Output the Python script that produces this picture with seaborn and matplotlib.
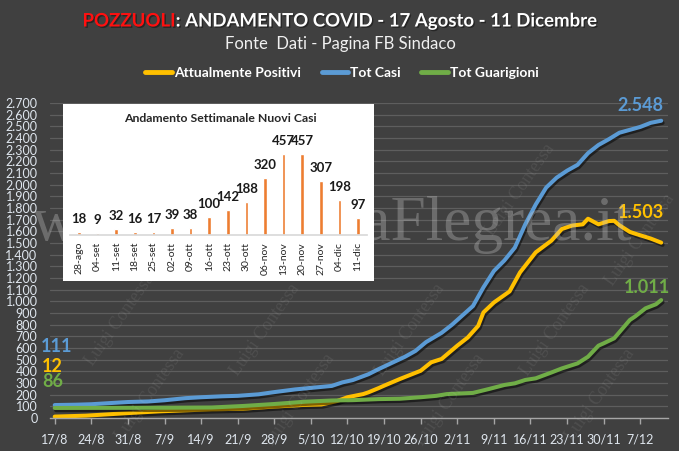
import matplotlib
matplotlib.use("Agg")
import matplotlib.pyplot as plt
import matplotlib.patheffects as pe
from matplotlib.ticker import FuncFormatter
from matplotlib.patches import Rectangle
from matplotlib.lines import Line2D
import seaborn as sns
import pandas as pd

# ---------------- data ----------------
series_names = ["Attualmente Positivi", "Tot Casi", "Tot Guarigioni"]

casi_dates = ["2020-08-17", "2020-08-21", "2020-08-24", "2020-08-28", "2020-08-31", "2020-09-04",
              "2020-09-07", "2020-09-11", "2020-09-14", "2020-09-18", "2020-09-21", "2020-09-25",
              "2020-09-28", "2020-10-02", "2020-10-05", "2020-10-09", "2020-10-11", "2020-10-13",
              "2020-10-16", "2020-10-18", "2020-10-20", "2020-10-23", "2020-10-25", "2020-10-27",
              "2020-10-30", "2020-11-01", "2020-11-03", "2020-11-05", "2020-11-07", "2020-11-09",
              "2020-11-11", "2020-11-13", "2020-11-15", "2020-11-17", "2020-11-19", "2020-11-21",
              "2020-11-23", "2020-11-25", "2020-11-27", "2020-11-29", "2020-12-01", "2020-12-03",
              "2020-12-05", "2020-12-07", "2020-12-09", "2020-12-11"]
casi_values = [111, 114, 118, 129, 137, 142,
               152, 170, 178, 186, 190, 203,
               222, 245, 258, 275, 305, 325,
               375, 420, 462, 525, 575, 650,
               730, 800, 880, 960, 1120, 1260,
               1350, 1460, 1660, 1830, 1975, 2060,
               2120, 2170, 2270, 2340, 2390, 2445,
               2470, 2495, 2530, 2548]

pos_dates = ["2020-08-17", "2020-08-23", "2020-08-31", "2020-09-06", "2020-09-11", "2020-09-16",
             "2020-09-22", "2020-09-28", "2020-10-04", "2020-10-07", "2020-10-10", "2020-10-12",
             "2020-10-15", "2020-10-16", "2020-10-18", "2020-10-19", "2020-10-22", "2020-10-26",
             "2020-10-28", "2020-10-30", "2020-11-02", "2020-11-04", "2020-11-06", "2020-11-07",
             "2020-11-09", "2020-11-12", "2020-11-14", "2020-11-17", "2020-11-20", "2020-11-22",
             "2020-11-24", "2020-11-26", "2020-11-27", "2020-11-29", "2020-12-01", "2020-12-02",
             "2020-12-03", "2020-12-05", "2020-12-06", "2020-12-09", "2020-12-11"]
pos_values = [12, 20, 42, 57, 66, 74,
              80, 98, 113, 116, 145, 178,
              205, 220, 257, 277, 334, 405,
              477, 506, 620, 690, 790, 905,
              990, 1085, 1248, 1420, 1520, 1620,
              1650, 1660, 1708, 1660, 1688, 1690,
              1652, 1595, 1580, 1538, 1503]

guar_dates = ["2020-08-17", "2020-09-07", "2020-09-16", "2020-09-22", "2020-09-28", "2020-10-04",
              "2020-10-09", "2020-10-13", "2020-10-18", "2020-10-22", "2020-10-26", "2020-10-29",
              "2020-10-31", "2020-11-05", "2020-11-08", "2020-11-11", "2020-11-13", "2020-11-15",
              "2020-11-17", "2020-11-20", "2020-11-22", "2020-11-25", "2020-11-27", "2020-11-29",
              "2020-11-30", "2020-12-02", "2020-12-05", "2020-12-06", "2020-12-08", "2020-12-10",
              "2020-12-11"]
guar_values = [86, 88, 90, 103, 120, 140,
               150, 153, 162, 165, 178, 190,
               205, 215, 248, 283, 297, 326,
               340, 390, 425, 468, 525, 620,
               640, 683, 840, 870, 940, 975,
               1011]

x_tick_dates = ["2020-08-17", "2020-08-24", "2020-08-31", "2020-09-07", "2020-09-14", "2020-09-21",
                "2020-09-28", "2020-10-05", "2020-10-12", "2020-10-19", "2020-10-26", "2020-11-02",
                "2020-11-09", "2020-11-16", "2020-11-23", "2020-11-30", "2020-12-07"]
x_tick_labels = ["17/8", "24/8", "31/8", "7/9", "14/9", "21/9", "28/9", "5/10", "12/10",
                 "19/10", "26/10", "2/11", "9/11", "16/11", "23/11", "30/11", "7/12"]

week_labels = ["28-ago", "04-set", "11-set", "18-set", "25-set", "02-ott", "09-ott", "16-ott",
               "23-ott", "30-ott", "06-nov", "13-nov", "20-nov", "27-nov", "04-dic", "11-dic"]
week_new_cases = [18, 9, 32, 16, 17, 39, 38, 100, 142, 188, 320, 457, 457, 307, 198, 97]

# ---------------- style ----------------
sns.set_theme(style="dark")
plt.rcParams['font.family'] = ['Lato', 'DejaVu Sans']

BG = '#404040'
C_POS, C_CASI, C_GUAR = '#FFC000', '#5B9BD5', '#70AD47'
palette = {series_names[0]: C_POS, series_names[1]: C_CASI, series_names[2]: C_GUAR}
TICKC = '#dfe6ee'

W, H = 679, 451
def fx(px):
    return px / W
def fy(py):
    return 1 - py / H

fig = plt.figure(figsize=(W / 100, H / 100), dpi=100, facecolor=BG)

# ---------------- main axes ----------------
ax = fig.add_axes([fx(50), fy(418), fx(668) - fx(50), fy(103) - fy(418)])
ax.set_facecolor(BG)

df = pd.concat([
    pd.DataFrame({"date": pd.to_datetime(pos_dates), "value": pos_values, "series": series_names[0]}),
    pd.DataFrame({"date": pd.to_datetime(casi_dates), "value": casi_values, "series": series_names[1]}),
    pd.DataFrame({"date": pd.to_datetime(guar_dates), "value": guar_values, "series": series_names[2]}),
], ignore_index=True)

sns.lineplot(data=df, x="date", y="value", hue="series", hue_order=series_names,
             palette=palette, linewidth=2.9, ax=ax, legend=False, estimator=None)
for ln in ax.lines:
    ln.set_solid_capstyle('round')
    ln.set_solid_joinstyle('round')
    ln.set_path_effects([pe.SimpleLineShadow(offset=(1.0, -1.6), shadow_color='black', alpha=0.5),
                         pe.Normal()])

start = pd.Timestamp("2020-08-17")
ax.set_xlim(start - pd.Timedelta(days=0.9), start + pd.Timedelta(days=117.3))
ax.set_ylim(0, 2700)
ax.set_yticks(list(range(0, 2701, 100)))
ax.yaxis.set_major_formatter(FuncFormatter(lambda v, _: f"{int(round(v)):,}".replace(",", ".")))
ax.set_xticks(pd.to_datetime(x_tick_dates))
ax.set_xticklabels(x_tick_labels)
ax.set_xlabel("")
ax.set_ylabel("")
ax.grid(False)
ax.yaxis.grid(True, color='#5e5e5e', linewidth=0.9)
ax.set_axisbelow(True)
for s in ['top', 'right', 'left']:
    ax.spines[s].set_visible(False)
ax.spines['bottom'].set_color('#a6a6a6')
ax.spines['bottom'].set_linewidth(1.0)
ax.tick_params(axis='y', length=0, pad=9, labelsize=9, labelcolor=TICKC)
ax.tick_params(axis='x', length=4, width=1, color='#a6a6a6', direction='out', bottom=True,
               pad=7, labelsize=9, labelcolor=TICKC)

# end / start value labels
end_d = pd.Timestamp("2020-12-11")
lab_kw = dict(textcoords='offset pixels', ha='center', va='center', fontweight='bold',
              fontsize=13, annotation_clip=False)
ax.annotate("2.548", xy=(end_d, casi_values[-1]), xytext=(-21, 15), color=C_CASI, **lab_kw)
ax.annotate("1.503", xy=(end_d, pos_values[-1]), xytext=(-20, 30), color=C_POS, **lab_kw)
ax.annotate("1.011", xy=(end_d, guar_values[-1]), xytext=(-14, 13), color=C_GUAR, **lab_kw)
ax.annotate("111", xy=(start, casi_values[0]), xytext=(2, 59), color=C_CASI, **lab_kw)
ax.annotate("12", xy=(start, pos_values[0]), xytext=(-2, 50), color=C_POS, **lab_kw)
ax.annotate("86", xy=(start, guar_values[0]), xytext=(-2, 26), color=C_GUAR, **lab_kw)

# ---------------- inset (weekly new cases) ----------------
fig.add_artist(Rectangle((fx(63), fy(281)), fx(374) - fx(63), fy(104) - fy(281),
                         transform=fig.transFigure, facecolor='white', edgecolor='none', zorder=1))
iax = fig.add_axes([fx(69.7), fy(235), fx(367.3) - fx(69.7), fy(135) - fy(235)])
iax.set_zorder(2)
iax.patch.set_alpha(0)
sns.barplot(x=week_labels, y=week_new_cases, color='#ED7D31', saturation=1, width=0.19, ax=iax)
iax.set_xlim(-0.5, len(week_labels) - 0.5)
iax.set_ylim(0, 565)
iax.bar_label(iax.containers[0], fontsize=9.5, fontweight='bold', color='#1a1a1a', padding=5)
iax.set_yticks([])
iax.set_xlabel("")
iax.set_ylabel("")
iax.grid(False)
for s in ['top', 'right', 'left']:
    iax.spines[s].set_visible(False)
iax.spines['bottom'].set_color('#d9d9d9')
iax.tick_params(axis='x', length=0, pad=5, labelsize=7.5, labelcolor='#262626', rotation=90)

inset_title = fig.text(fx(220), fy(118.5), "Andamento Settimanale Nuovi Casi", ha='center',
                       va='center', fontsize=9, fontweight='bold', color='#262626', zorder=3)

# ---------------- titles & legend ----------------
shadow = [pe.withSimplePatchShadow(offset=(1, -1), shadow_rgbFace='black', alpha=0.4)]
t1 = fig.text(0, fy(21), "POZZUOLI", color='#FF1010', fontsize=14, fontweight='bold',
              va='center', ha='left', path_effects=shadow)
t2 = fig.text(0, fy(21), ": ANDAMENTO COVID - 17 Agosto - 11 Dicembre", color='white',
              fontsize=14, fontweight='bold', va='center', ha='left', path_effects=shadow)
sub = fig.text(fx(340), fy(44), "Fonte  Dati - Pagina FB Sindaco", color='#f0f0f0',
               fontsize=10, ha='center', va='center')

handles = [Line2D([], [], color=palette[n], lw=3.5) for n in series_names]
leg = fig.legend(handles, series_names, loc='center', bbox_to_anchor=(fx(342), fy(73)),
                 ncol=3, frameon=False, handlelength=1.9, handletextpad=0.15,
                 columnspacing=1.5, prop={'weight': 'bold', 'size': 10})
for t in leg.get_texts():
    t.set_color('white')

# ---------------- watermarks (behind the inset, above the chart) ----------------
wm = fig.text(fx(332), fy(240), "www.CronacaFlegrea.it", family=['Liberation Serif', 'DejaVu Serif'],
              fontsize=40, color='#c8c8c8', alpha=0.33, ha='center', va='baseline', zorder=0.5)
for (px, py) in [(120, 320), (265, 330), (410, 330), (555, 330), (150, 395), (300, 400),
                 (450, 400), (600, 395), (520, 190), (640, 240)]:
    fig.text(fx(px), fy(py), "Luigi Contessa", family=['Liberation Serif', 'DejaVu Serif'],
             fontsize=13, color='#d0d0d0', alpha=0.10, rotation=55, ha='center', va='center',
             zorder=0.5)

# fit text widths to the reference
fig.canvas.draw()
r = fig.canvas.get_renderer()
w1 = t1.get_window_extent(r).width
w2 = t2.get_window_extent(r).width
k = 516.0 / (w1 + w2)
t1.set_fontsize(14 * k)
t2.set_fontsize(14 * k)
fig.canvas.draw()
w1 = t1.get_window_extent(r).width
w2 = t2.get_window_extent(r).width
x0 = 340 - (w1 + w2) / 2
t1.set_x(fx(x0))
t2.set_x(fx(x0 + w1))
ws = sub.get_window_extent(r).width
sub.set_fontsize(10 * 231.0 / ws)
wi = inset_title.get_window_extent(r).width
inset_title.set_fontsize(9 * 193.0 / wi)
ww = wm.get_window_extent(r).width
wm.set_fontsize(40 * 600.0 / ww)

fig.savefig("out.png", dpi=100, facecolor=BG)
